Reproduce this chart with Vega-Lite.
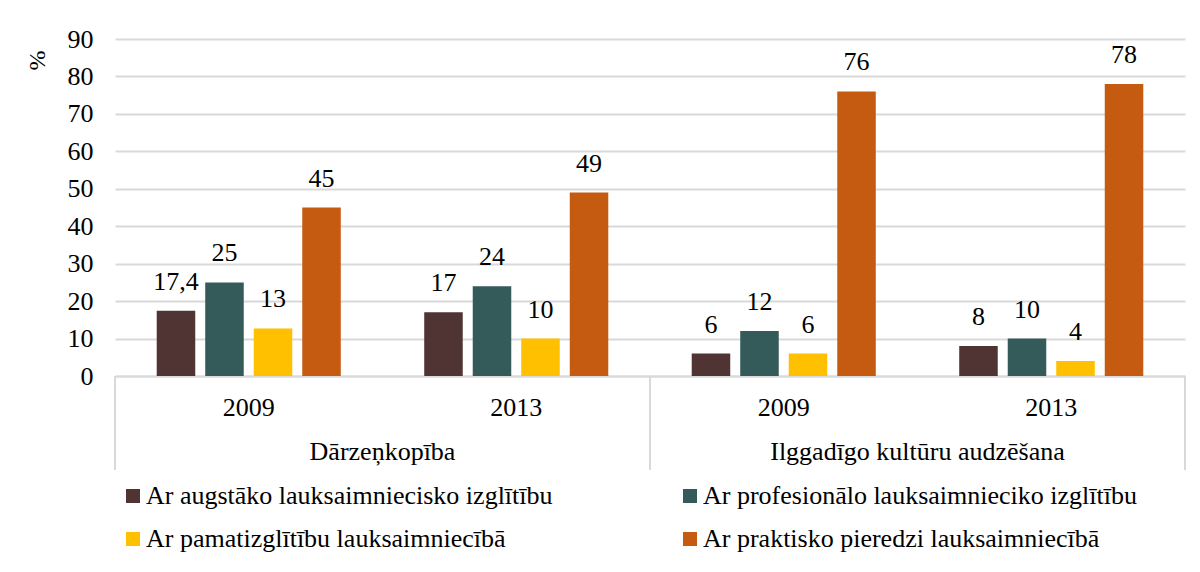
{
  "$schema": "https://vega.github.io/schema/vega-lite/v6.json",
  "padding": {"left": 25, "top": 26, "right": 10, "bottom": 10},
  "background": "#ffffff",
  "width": 1070,
  "height": 337,
  "data": {
    "values": [
      {"group": "Dārzeņkopība", "year": "2009", "cat": "Dārzeņkopība|2009", "series": "Ar augstāko lauksaimniecisko izglītību", "value": 17.4, "label": "17,4"},
      {"group": "Dārzeņkopība", "year": "2009", "cat": "Dārzeņkopība|2009", "series": "Ar profesionālo lauksaimnieciko izglītību", "value": 25, "label": "25"},
      {"group": "Dārzeņkopība", "year": "2009", "cat": "Dārzeņkopība|2009", "series": "Ar pamatizglītību lauksaimniecībā", "value": 12.7, "label": "13"},
      {"group": "Dārzeņkopība", "year": "2009", "cat": "Dārzeņkopība|2009", "series": "Ar praktisko pieredzi lauksaimniecībā", "value": 45, "label": "45"},
      {"group": "Dārzeņkopība", "year": "2013", "cat": "Dārzeņkopība|2013", "series": "Ar augstāko lauksaimniecisko izglītību", "value": 17, "label": "17"},
      {"group": "Dārzeņkopība", "year": "2013", "cat": "Dārzeņkopība|2013", "series": "Ar profesionālo lauksaimnieciko izglītību", "value": 24, "label": "24"},
      {"group": "Dārzeņkopība", "year": "2013", "cat": "Dārzeņkopība|2013", "series": "Ar pamatizglītību lauksaimniecībā", "value": 10, "label": "10"},
      {"group": "Dārzeņkopība", "year": "2013", "cat": "Dārzeņkopība|2013", "series": "Ar praktisko pieredzi lauksaimniecībā", "value": 49, "label": "49"},
      {"group": "Ilggadīgo kultūru audzēšana", "year": "2009", "cat": "Ilggadīgo kultūru audzēšana|2009", "series": "Ar augstāko lauksaimniecisko izglītību", "value": 6, "label": "6"},
      {"group": "Ilggadīgo kultūru audzēšana", "year": "2009", "cat": "Ilggadīgo kultūru audzēšana|2009", "series": "Ar profesionālo lauksaimnieciko izglītību", "value": 12, "label": "12"},
      {"group": "Ilggadīgo kultūru audzēšana", "year": "2009", "cat": "Ilggadīgo kultūru audzēšana|2009", "series": "Ar pamatizglītību lauksaimniecībā", "value": 6, "label": "6"},
      {"group": "Ilggadīgo kultūru audzēšana", "year": "2009", "cat": "Ilggadīgo kultūru audzēšana|2009", "series": "Ar praktisko pieredzi lauksaimniecībā", "value": 76, "label": "76"},
      {"group": "Ilggadīgo kultūru audzēšana", "year": "2013", "cat": "Ilggadīgo kultūru audzēšana|2013", "series": "Ar augstāko lauksaimniecisko izglītību", "value": 8, "label": "8"},
      {"group": "Ilggadīgo kultūru audzēšana", "year": "2013", "cat": "Ilggadīgo kultūru audzēšana|2013", "series": "Ar profesionālo lauksaimnieciko izglītību", "value": 10, "label": "10"},
      {"group": "Ilggadīgo kultūru audzēšana", "year": "2013", "cat": "Ilggadīgo kultūru audzēšana|2013", "series": "Ar pamatizglītību lauksaimniecībā", "value": 4, "label": "4"},
      {"group": "Ilggadīgo kultūru audzēšana", "year": "2013", "cat": "Ilggadīgo kultūru audzēšana|2013", "series": "Ar praktisko pieredzi lauksaimniecībā", "value": 78, "label": "78"}
    ]
  },
  "encoding": {
    "x": {
      "field": "cat",
      "type": "nominal",
      "sort": ["Dārzeņkopība|2009", "Dārzeņkopība|2013", "Ilggadīgo kultūru audzēšana|2009", "Ilggadīgo kultūru audzēšana|2013"],
      "scale": {"paddingInner": 0, "paddingOuter": 0},
      "axis": {
        "title": null,
        "labelAngle": 0,
        "labelExpr": "split(datum.value, '|')[1]",
        "labelFont": "Liberation Serif",
        "labelFontSize": 26,
        "labelColor": "#000000",
        "domainColor": "#d9d9d9",
        "domainWidth": 2,
        "ticks": false,
        "labelPadding": 18,
        "grid": false
      }
    },
    "y": {
      "field": "value",
      "type": "quantitative",
      "scale": {"domain": [0, 90], "nice": false},
      "axis": {
        "title": "%",
        "titleFont": "Liberation Serif",
        "titleFontSize": 24,
        "titleFontWeight": "normal",
        "titleColor": "#000000",
        "titleX": -78,
        "titleY": 21,
        "titleAlign": "center",
        "titleBaseline": "middle",
        "titleAngle": -90,
        "values": [0, 10, 20, 30, 40, 50, 60, 70, 80, 90],
        "labelFont": "Liberation Serif",
        "labelFontSize": 26,
        "labelColor": "#000000",
        "labelPadding": 22,
        "ticks": false,
        "domain": false,
        "grid": true,
        "gridColor": "#d9d9d9",
        "gridWidth": 2
      }
    }
  },
  "layer": [
    {
      "transform": [{"filter": "datum.year === '2009' && datum.series === 'Ar augstāko lauksaimniecisko izglītību'"}],
      "mark": {"type": "rule", "color": "#d9d9d9", "strokeWidth": 2, "clip": false},
      "encoding": {
        "x": {"field": "cat", "type": "nominal", "bandPosition": 0},
        "y": {"datum": 0},
        "y2": {"datum": -25.1}
      }
    },
    {
      "transform": [{"filter": "datum.cat === 'Ilggadīgo kultūru audzēšana|2013' && datum.series === 'Ar augstāko lauksaimniecisko izglītību'"}],
      "mark": {"type": "rule", "color": "#d9d9d9", "strokeWidth": 2, "clip": false},
      "encoding": {
        "x": {"field": "cat", "type": "nominal", "bandPosition": 1},
        "y": {"datum": 0},
        "y2": {"datum": -25.1}
      }
    },
    {
      "mark": {"type": "bar"},
      "encoding": {
        "xOffset": {
          "field": "series",
          "type": "nominal",
          "sort": ["Ar augstāko lauksaimniecisko izglītību", "Ar profesionālo lauksaimnieciko izglītību", "Ar pamatizglītību lauksaimniecībā", "Ar praktisko pieredzi lauksaimniecībā"],
          "scale": {"paddingInner": 0.206, "paddingOuter": 0.86}
        },
        "color": {
          "field": "series",
          "type": "nominal",
          "sort": ["Ar augstāko lauksaimniecisko izglītību", "Ar profesionālo lauksaimnieciko izglītību", "Ar pamatizglītību lauksaimniecībā", "Ar praktisko pieredzi lauksaimniecībā"],
          "scale": {"range": ["#503434", "#355A5A", "#FFC000", "#C55A11"]},
          "legend": {
            "title": null,
            "orient": "bottom",
            "direction": "horizontal",
            "columns": 2,
            "symbolType": "square",
            "symbolSize": 196,
            "symbolStrokeWidth": 0,
            "labelFont": "Liberation Serif",
            "labelFontSize": 26,
            "labelColor": "#000000",
            "labelOffset": 0,
            "labelLimit": 700,
            "columnPadding": 124,
            "rowPadding": 17,
            "padding": 5,
            "offset": 58
          }
        }
      }
    },
    {
      "mark": {"type": "text", "baseline": "alphabetic", "dy": -21, "font": "Liberation Serif", "fontSize": 26, "color": "#000000"},
      "encoding": {
        "xOffset": {
          "field": "series",
          "type": "nominal",
          "sort": ["Ar augstāko lauksaimniecisko izglītību", "Ar profesionālo lauksaimnieciko izglītību", "Ar pamatizglītību lauksaimniecībā", "Ar praktisko pieredzi lauksaimniecībā"],
          "scale": {"paddingInner": 0.206, "paddingOuter": 0.86}
        },
        "text": {"field": "label", "type": "nominal"}
      }
    },
    {
      "transform": [{"filter": "datum.year === '2009' && datum.series === 'Ar augstāko lauksaimniecisko izglītību'"}],
      "mark": {"type": "text", "baseline": "middle", "align": "center", "dy": 76, "font": "Liberation Serif", "fontSize": 26, "color": "#000000", "clip": false},
      "encoding": {
        "x": {"field": "cat", "type": "nominal", "bandPosition": 1},
        "y": {"datum": 0},
        "text": {"field": "group", "type": "nominal"}
      }
    }
  ],
  "config": {
    "view": {"stroke": null}
  }
}
